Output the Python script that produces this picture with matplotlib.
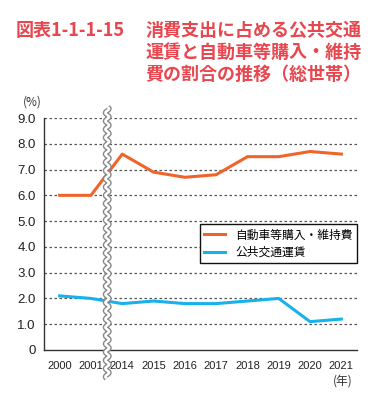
import numpy as np
import matplotlib
matplotlib.use("Agg")
import matplotlib.pyplot as plt

plt.rcParams['font.family'] = ['Noto Sans CJK JP', 'DejaVu Sans']

years = ["2000", "2001", "2014", "2015", "2016", "2017", "2018", "2019", "2020", "2021"]
car_costs = [6.0, 6.0, 7.6, 6.9, 6.7, 6.8, 7.5, 7.5, 7.7, 7.6]
transit_fares = [2.1, 2.0, 1.8, 1.9, 1.8, 1.8, 1.9, 2.0, 1.1, 1.2]
yticks = [0, 1, 2, 3, 4, 5, 6, 7, 8, 9]
ytick_labels = ["0", "1.0", "2.0", "3.0", "4.0", "5.0", "6.0", "7.0", "8.0", "9.0"]

RED = "#e8474f"
ORANGE = "#f0642a"
BLUE = "#17b1ec"

fig = plt.figure(figsize=(3.9, 3.96), dpi=100)
ax = fig.add_axes([44 / 390, 1 - 350 / 396, 313 / 390, 232 / 396])

x = np.arange(len(years))
ax.plot(x, car_costs, color=ORANGE, lw=2.2, label="自動車等購入・維持費", zorder=3)
ax.plot(x, transit_fares, color=BLUE, lw=2.2, label="公共交通運賃", zorder=3)

ax.set_xlim(-0.5, 9.5)
ax.set_ylim(0, 9)
ax.set_yticks(yticks)
ax.set_yticklabels(ytick_labels, family="Liberation Sans", fontsize=9.5, color="#222222")
ax.set_xticks(x)
ax.set_xticklabels(years, family="Liberation Sans", fontsize=8, color="#222222")
ax.tick_params(axis="both", length=0)
ax.tick_params(axis="y", pad=6)
ax.tick_params(axis="x", pad=8)
for y in yticks[1:]:
    ax.axhline(y, color="#555555", lw=0.9, ls=(0, (2, 2)), zorder=1)
for side in ("top", "right"):
    ax.spines[side].set_visible(False)
for side in ("left", "bottom"):
    ax.spines[side].set_color("#333333")
    ax.spines[side].set_linewidth(1.0)

# wavy break mark between 2001 and 2014
wy = np.linspace(-1.1, 9.42, 400)
wx = 1.52 + 0.06 * np.sin(wy * 2 * np.pi / 0.32)
ax.plot(wx, wy, color="#888888", lw=3.8, clip_on=False, zorder=4, solid_capstyle="butt")
ax.plot(wx, wy, color="white", lw=1.8, clip_on=False, zorder=5, solid_capstyle="butt")

leg = ax.legend(loc="upper left", bbox_to_anchor=(0.478, 0.569), fontsize=8.5,
                frameon=True, fancybox=False, framealpha=1, edgecolor="#111111",
                handlelength=1.8, borderpad=0.4, labelspacing=0.35)
leg.get_frame().set_linewidth(1.0)

fig.text(32 / 390, 1 - 102 / 396, "(%)", fontsize=8.5, ha="center", va="center", color="#333333")
fig.text(343 / 390, 1 - 381 / 396, "(年)", fontsize=8.5, ha="center", va="center", color="#333333")

fig.text(16 / 390, 1 - 30 / 396, "図表1-1-1-15", fontsize=13, fontweight="bold", color=RED,
         ha="left", va="center")
title_lines = ["消費支出に占める公共交通", "運賃と自動車等購入・維持", "費の割合の推移（総世帯）"]
for i, line in enumerate(title_lines):
    fig.text(145 / 390, 1 - (30 + 22 * i) / 396, line, fontsize=13, fontweight="bold",
             color=RED, ha="left", va="center")

fig.savefig("out.png", dpi=100)
